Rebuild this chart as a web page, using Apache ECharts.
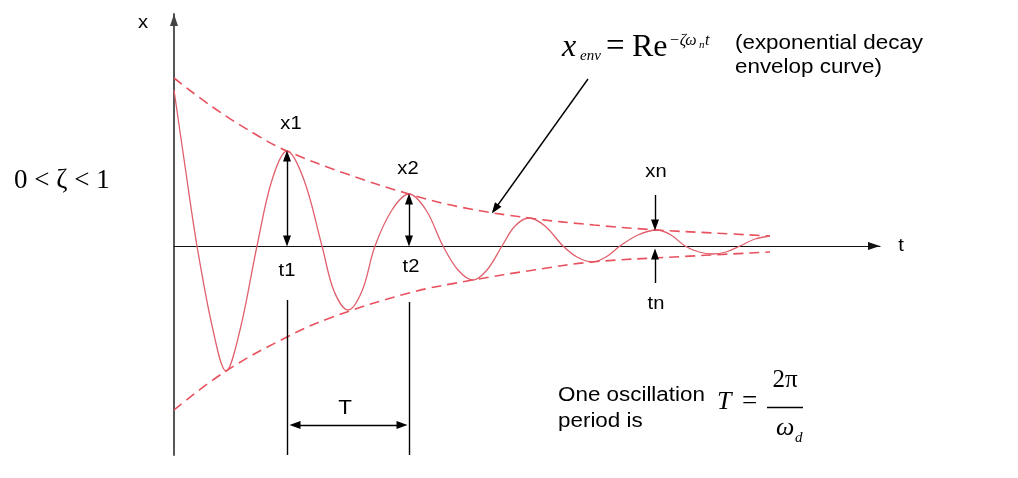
<!DOCTYPE html>
<html><head><meta charset="utf-8">
<script src="https://cdn.jsdelivr.net/npm/echarts@6/dist/echarts.min.js"></script>
<style>html,body{margin:0;padding:0;background:#fff}#c{width:1018px;height:478px}</style>
</head><body><div id="c"></div>
<script>
// ---- data (t, x in chart units) ----
const respT = [0, 11, 23, 39, 52, 66, 83, 98, 113, 130, 148, 160, 174, 188, 201, 218, 235, 252, 269, 284, 299, 313, 328, 341, 355, 371, 389, 403, 418, 432, 446, 464, 483, 497, 511, 525, 539, 552, 566, 581, 596];
const respX = [156, 80, 0, -84, -125, -84, 0, 66, 95, 66, 0, -45, -64, -45, 0, 36, 52, 36, 0, -24, -34, -24, 0, 20, 28, 20, 0, -11, -16, -11, 0, 11, 16, 11, 0, -6, -8, -6, 0, 7, 10];
const envUpT = [0, 40, 86, 113, 170, 235, 286, 355, 420, 483, 540, 596];
const envUpX = [168, 138, 109, 95, 73, 52, 39, 28, 21, 16, 13, 10];
const envLoT = [0, 52, 113, 156, 235, 299, 360, 418, 500, 596];
const envLoX = [-164, -125, -91, -72, -47, -34, -24, -16, -11, -6];
// marked instants
const t1 = 113, t2 = 235, tn = 481;
const x1 = 95, x2 = 52, xn = 16;
const periodY = -179;
const axisT = [0, 706];
const axisX = [-209, 232];

const pairs = (a, b) => a.map((v, i) => [v, b[i]]);
const chart = echarts.init(document.getElementById('c'));
const RED = '#e8525e';
const blk = {color: '#000', width: 1.4, type: 'solid'};
const head = {symbol: 'triangle', symbolSize: [8, 11]};
const none = {symbol: 'none'};

const markData = [
  [{coord: [t1, x1 - 5], ...head}, {coord: [t1, 5], ...head}],
  [{coord: [t2, x2 - 5], ...head}, {coord: [t2, 5], ...head}],
  [{coord: [tn, 51], ...none}, {coord: [tn, xn + 5], ...head}],
  [{coord: [tn, -37], ...none}, {coord: [tn, -8], ...head}],
  [{coord: [t1 + 8, periodY], ...head}, {coord: [t2 - 7, periodY], ...head}],
  [{coord: [t1, -54], ...none}, {coord: [t1, axisX[0]], ...none}],
  [{coord: [t2, -56], ...none}, {coord: [t2, axisX[0]], ...none}],
  [{coord: [414, 167], ...none}, {coord: [321, 37], ...head}]
];

chart.setOption({
  animation: false,
  grid: {left: 174, top: 14, width: 706, height: 441},
  xAxis: {
    type: 'value', min: axisT[0], max: axisT[1],
    axisLine: {show: true, onZero: true, symbol: ['none', 'triangle'], symbolSize: [8, 12], symbolOffset: [0, -6],
      lineStyle: {color: '#111', width: 1.2}},
    axisTick: {show: false}, axisLabel: {show: false}, splitLine: {show: false}
  },
  yAxis: {
    type: 'value', min: axisX[0], max: axisX[1],
    axisLine: {show: true, onZero: true, symbol: ['none', 'triangle'], symbolSize: [8, 12], symbolOffset: [0, -6],
      lineStyle: {color: '#444', width: 1.8}},
    axisTick: {show: false}, axisLabel: {show: false}, splitLine: {show: false}
  },
  series: [
    {name: 'response', type: 'line', data: pairs(respT, respX), smooth: 0.35, showSymbol: false,
      lineStyle: {color: '#e0606c', width: 1.3},
      markLine: {silent: true, label: {show: false}, lineStyle: blk, symbol: 'none', data: markData}},
    {name: 'envUpper', type: 'line', data: pairs(envUpT, envUpX), smooth: 0.4, showSymbol: false,
      lineStyle: {color: RED, width: 1.6, type: [10, 6]}},
    {name: 'envLower', type: 'line', data: pairs(envLoT, envLoX), smooth: 0.4, showSymbol: false,
      lineStyle: {color: RED, width: 1.6, type: [10, 6]}}
  ]
});

// ---- text annotations ----
const SANS = '"Liberation Sans", Arial, sans-serif';
const SERIF = '"Liberation Serif", "Times New Roman", serif';
function txt(s, x, base, size, fam, o) {
  o = o || {};
  const k = fam === SERIF ? 0.3375 : 0.3465;
  return {type: 'text', silent: true, x: x, y: base - k * size, scaleX: o.sx || 1,
    style: {text: s, font: (o.it ? 'italic ' : '') + size + 'px ' + fam, fill: '#000',
      align: o.align || 'left', verticalAlign: 'middle'}};
}
const px = (t, v) => chart.convertToPixel({gridIndex: 0}, [t, v]);
const SX = 1.12;
const g = [];
function anchored(s, t, v, dx, dyBase, size) {
  const p = px(t, v);
  g.push(txt(s, p[0] + dx, p[1] + dyBase, size, SANS, {sx: SX, align: 'center'}));
}
const yTop = px(0, axisX[1]);
const xEnd = px(axisT[1], 0);
g.push(txt('x', yTop[0] - 31, yTop[1] + 15, 18, SANS, {sx: SX, align: 'center'}));
g.push(txt('t', xEnd[0] + 21, xEnd[1] + 6, 18, SANS, {sx: SX, align: 'center'}));
anchored('x1', t1, x1, 4, -21, 18);
anchored('x2', t2, x2, -1, -19, 18);
anchored('xn', tn, xn, 1, -52, 18);
anchored('t1', t1, 0, 0, 31, 18);
anchored('t2', t2, 0, 2, 27, 18);
anchored('tn', tn, 0, 1, 64, 18);
anchored('T', (t1 + t2) / 2, periodY, -3, -10, 20);

// side condition
g.push(txt('0 < ζ < 1', 14, 190, 27, SERIF));
// envelope formula
g.push(txt('x', 562, 58, 32, SERIF, {it: true}));
g.push(txt('env', 580, 61, 15, SERIF, {it: true}));
g.push(txt('=', 606, 58, 33, SERIF));
g.push(txt('Re', 632, 58, 32, SERIF));
g.push(txt('−ζω', 669, 46, 16, SERIF, {it: true}));
g.push(txt('n', 699, 49, 11, SERIF, {it: true}));
g.push(txt('t', 705, 46, 16, SERIF, {it: true}));
g.push(txt('(exponential decay', 735, 50, 20, SANS, {sx: SX}));
g.push(txt('envelop curve)', 735, 74, 20, SANS, {sx: SX}));
// period formula
g.push(txt('One oscillation', 558, 402, 20, SANS, {sx: SX}));
g.push(txt('period is', 558, 428, 20, SANS, {sx: SX}));
g.push(txt('T', 717, 411, 26, SERIF, {it: true}));
g.push(txt('=', 742, 411, 27, SERIF));
g.push(txt('2π', 785, 389, 25, SERIF, {align: 'center'}));
g.push({type: 'line', silent: true, shape: {x1: 767, y1: 407.5, x2: 803, y2: 407.5}, style: {stroke: '#000', lineWidth: 1.3}});
g.push(txt('ω', 776, 437, 26, SERIF, {it: true}));
g.push(txt('d', 795, 443, 15, SERIF, {it: true}));

chart.setOption({graphic: g});
</script>
</body></html>
